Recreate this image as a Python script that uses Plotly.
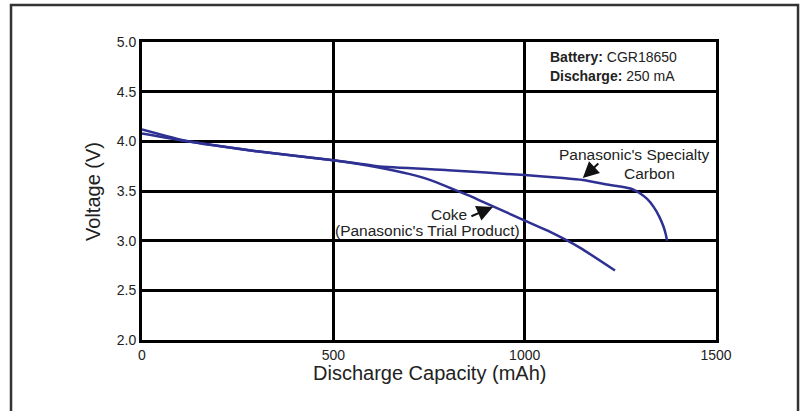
import plotly.graph_objects as go

carbon_x = [0, 120, 300, 500, 615, 800, 1000, 1100, 1152, 1223, 1250, 1280, 1300, 1320, 1337, 1352, 1363, 1369, 1372]
carbon_y = [4.08, 4.00, 3.90, 3.81, 3.75, 3.71, 3.66, 3.63, 3.61, 3.56, 3.545, 3.52, 3.48, 3.42, 3.34, 3.24, 3.14, 3.06, 3.00]

coke_x = [0, 120, 300, 500, 615, 700, 754, 806, 857, 891, 996, 1060, 1144, 1236]
coke_y = [4.12, 4.00, 3.90, 3.81, 3.74, 3.67, 3.61, 3.53, 3.45, 3.39, 3.21, 3.10, 2.93, 2.70]

x_ticks = [0, 500, 1000, 1500]
y_ticks = [2.0, 2.5, 3.0, 3.5, 4.0, 4.5, 5.0]

LINE = "#2e3192"
FONT = "Liberation Sans, Arial, sans-serif"

fig = go.Figure()
fig.add_trace(go.Scatter(x=carbon_x, y=carbon_y, mode="lines",
                         line=dict(color=LINE, width=2.5, shape="spline", smoothing=0.5),
                         name="Panasonic's Specialty Carbon", showlegend=False))
fig.add_trace(go.Scatter(x=coke_x, y=coke_y, mode="lines",
                         line=dict(color=LINE, width=2.5, shape="spline", smoothing=0.5),
                         name="Coke", showlegend=False))

fig.update_layout(
    width=806, height=411,
    margin=dict(l=142, r=90, t=42, b=71),
    paper_bgcolor="white", plot_bgcolor="white",
    font=dict(family=FONT, color="#222222", size=14),
    xaxis=dict(range=[0, 1500], tickvals=x_ticks, ticktext=[str(v) for v in x_ticks],
               showgrid=True, gridcolor="black", gridwidth=2.5,
               showline=True, linecolor="black", linewidth=3, mirror=True,
               zeroline=False, ticks="", tickfont=dict(size=14)),
    yaxis=dict(range=[2.0, 5.0], tickvals=y_ticks, ticktext=[f"{v:.1f}" for v in y_ticks],
               showgrid=True, gridcolor="black", gridwidth=2.5,
               showline=True, linecolor="black", linewidth=3, mirror=True,
               zeroline=False, ticks="", tickfont=dict(size=14)),
    shapes=[dict(type="rect", xref="paper", yref="paper",
                 x0=-0.2282, x1=1.1429, y0=-0.3, y1=1.1242,
                 line=dict(color="#333333", width=2.5), layer="below")],
)

ann = [
    dict(xref="paper", yref="paper", x=0.5, y=-0.112, yanchor="middle",
         text="Discharge Capacity (mAh)", showarrow=False, font=dict(size=20)),
    dict(xref="paper", yref="paper", x=-0.0854, y=0.5, textangle=-90,
         xanchor="center", yanchor="middle",
         text="Voltage (V)", showarrow=False, font=dict(size=20)),
    dict(xref="paper", yref="paper", x=0.707, y=0.95, xanchor="left", yanchor="middle",
         text="<b>Battery:</b> CGR18650", showarrow=False, font=dict(size=14)),
    dict(xref="paper", yref="paper", x=0.707, y=0.886, xanchor="left", yanchor="middle",
         text="<b>Discharge:</b> 250 mA", showarrow=False, font=dict(size=14)),
    dict(x=1288, y=3.87, xanchor="center", yanchor="middle",
         text="Panasonic's Specialty", showarrow=False, font=dict(size=15.5)),
    dict(x=1327, y=3.68, xanchor="center", yanchor="middle",
         text="Carbon", showarrow=False, font=dict(size=15.5)),
    dict(x=1152, y=3.63, ax=17, ay=-16, axref="pixel", ayref="pixel",
         text="", showarrow=True, arrowhead=2, arrowsize=1.6, arrowwidth=2, arrowcolor="#111111"),
    dict(x=802, y=3.26, xanchor="center", yanchor="middle",
         text="Coke", showarrow=False, font=dict(size=15.5)),
    dict(x=747, y=3.10, xanchor="center", yanchor="middle",
         text="(Panasonic's Trial Product)", showarrow=False, font=dict(size=15.5)),
    dict(x=917, y=3.34, ax=-23, ay=10, axref="pixel", ayref="pixel",
         text="", showarrow=True, arrowhead=2, arrowsize=1.6, arrowwidth=2, arrowcolor="#111111"),
]
fig.update_layout(annotations=ann)

fig.write_html("out.html", config={"displayModeBar": False},
               post_script="document.body.style.margin='0';")
